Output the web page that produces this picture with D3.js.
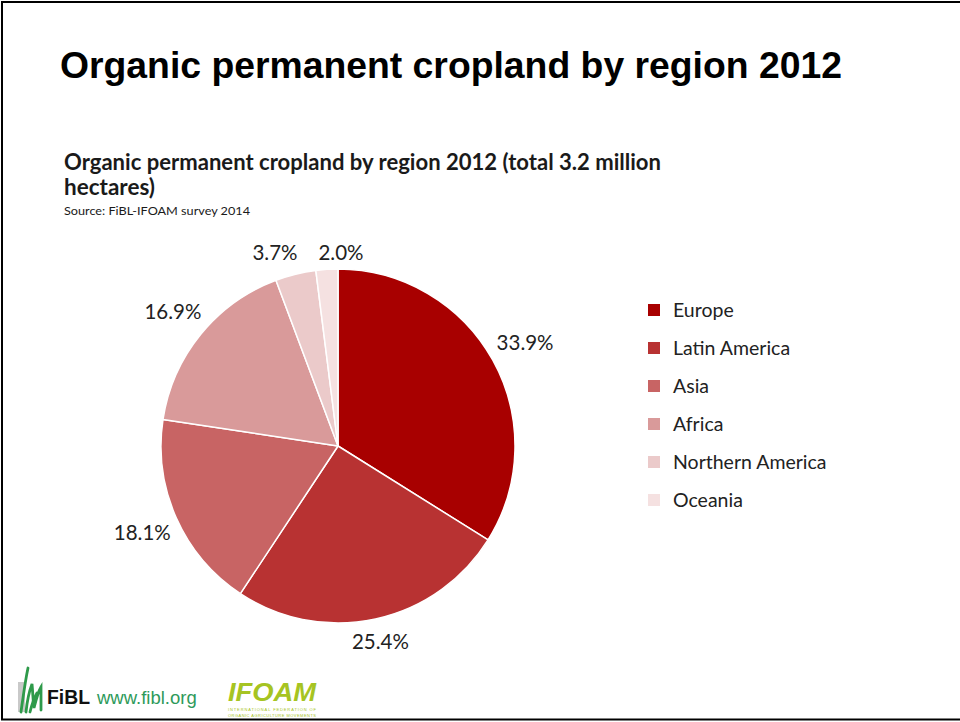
<!DOCTYPE html>
<html>
<head>
<meta charset="utf-8">
<script src="https://cdn.jsdelivr.net/npm/d3@7"></script>
<style>
  body { margin: 0; background: #fff; }
  svg { display: block; }
</style>
</head>
<body>
<div id="chart"></div>
<script>
// data
var regions = ["Europe", "Latin America", "Asia", "Africa", "Northern America", "Oceania"];
var shares = [33.9, 25.4, 18.1, 16.9, 3.7, 2.0];
var colors = ["#a80000", "#b83232", "#c86464", "#d99a9a", "#ebcaca", "#f5e1e1"];

var slideTitle = "Organic permanent cropland by region 2012";
var chartTitle1 = "Organic permanent cropland by region 2012 (total 3.2 million";
var chartTitle2 = "hectares)";
var sourceText = "Source: FiBL-IFOAM survey 2014";

var W = 960, H = 722;
var svg = d3.select("#chart").append("svg")
    .attr("width", W)
    .attr("height", H);

// slide frame
svg.append("rect")
    .attr("x", 2).attr("y", 2)
    .attr("width", W + 10).attr("height", H - 4.5)
    .attr("fill", "#fff")
    .attr("stroke", "#000")
    .attr("stroke-width", 2);

svg.append("text")
    .attr("x", 60).attr("y", 78)
    .attr("font-family", "Liberation Sans, Arial, sans-serif")
    .attr("font-weight", "bold")
    .attr("font-size", 37)
    .attr("textLength", 782)
    .attr("lengthAdjust", "spacingAndGlyphs")
    .attr("fill", "#000")
    .text(slideTitle);

// chart titles
var calibri = "Lato, 'Open Sans', sans-serif";
svg.append("text")
    .attr("x", 64).attr("y", 170)
    .attr("font-family", calibri).attr("font-weight", "bold")
    .attr("font-size", 22).attr("fill", "#1a1a1a")
    .attr("textLength", 597)
    .attr("lengthAdjust", "spacingAndGlyphs")
    .text(chartTitle1);
svg.append("text")
    .attr("x", 64).attr("y", 195)
    .attr("font-family", calibri).attr("font-weight", "bold")
    .attr("font-size", 22).attr("fill", "#1a1a1a")
    .attr("textLength", 91)
    .attr("lengthAdjust", "spacingAndGlyphs")
    .text(chartTitle2);
svg.append("text")
    .attr("x", 64).attr("y", 215)
    .attr("font-family", calibri)
    .attr("font-size", 12).attr("fill", "#1a1a1a")
    .attr("textLength", 186)
    .attr("lengthAdjust", "spacingAndGlyphs")
    .text(sourceText);

// pie
var cx = 338, cy = 446, r = 177;
var data = regions.map(function(d, i) { return {region: d, value: shares[i], color: colors[i]}; });

var pie = d3.pie().sort(null).value(function(d) { return d.value; });
var arc = d3.arc().innerRadius(0).outerRadius(r);
var arcs = pie(data);

var g = svg.append("g").attr("transform", "translate(" + cx + "," + cy + ")");
g.selectAll("path")
    .data(arcs)
    .enter()
    .append("path")
    .attr("d", arc)
    .attr("fill", function(d) { return d.data.color; })
    .attr("stroke", "#fff")
    .attr("stroke-width", 1.5)
    .attr("stroke-linejoin", "round");

// labels, outside end
var labelSize = 20.5;
var lbl = g.selectAll("text.lbl")
    .data(arcs)
    .enter()
    .append("text")
    .attr("class", "lbl")
    .attr("dy", "0.35em")
    .attr("text-anchor", "middle")
    .attr("font-family", calibri)
    .attr("font-size", labelSize)
    .attr("fill", "#222")
    .text(function(d) { return d.data.value.toFixed(1) + "%"; });

var pos = [];
lbl.each(function(d) {
  var a = (d.startAngle + d.endAngle) / 2;
  var w = this.getComputedTextLength(), h = labelSize;
  var dist = r + 7 + Math.abs(Math.sin(a)) * w / 2 + Math.abs(Math.cos(a)) * h / 2;
  pos.push({x: Math.sin(a) * dist, y: -Math.cos(a) * dist, w: w});
});
// push small neighbouring labels apart, both sides
for (var i = 1; i < pos.length; i++) {
  var p = pos[i - 1], q = pos[i];
  var need = (p.w + q.w) / 2 + 21;
  if (Math.abs(p.y - q.y) < labelSize && Math.abs(p.x - q.x) < need) {
    var extra = (need - Math.abs(q.x - p.x)) / 2;
    p.x -= extra;
    q.x += extra;
    var my = Math.max(p.y, q.y);
    p.y = my; q.y = my;
  }
}
lbl.attr("x", function(d, i) { return pos[i].x; })
   .attr("y", function(d, i) { return pos[i].y; });

// legend
var legend = svg.append("g").attr("transform", "translate(648,310)");
var item = legend.selectAll("g")
    .data(data)
    .enter()
    .append("g")
    .attr("transform", function(d, i) { return "translate(0," + (i * 38) + ")"; });
item.append("rect")
    .attr("x", 0).attr("y", -6)
    .attr("width", 12).attr("height", 12)
    .attr("fill", function(d) { return d.color; });
item.append("text")
    .attr("x", 25).attr("dy", "0.35em")
    .attr("font-family", calibri)
    .attr("font-size", 19.5)
    .attr("fill", "#222")
    .text(function(d) { return d.region; });

// footer logos
var fibl = svg.append("g").attr("transform", "translate(18,668)");
fibl.append("rect").attr("x", 0).attr("y", 14).attr("width", 7).attr("height", 30).attr("fill", "#c9c9c9");
var grass = [
  "M3,44 C5,30 7,14 10,0",
  "M8,44 C9,34 11,24 14,16 C15,26 15,34 16,40 C18,32 20,24 23,19 C23,28 23,36 23,42",
  "M12,44 C14,36 16,30 19,25"
];
fibl.selectAll("path.gr")
    .data(grass)
    .enter()
    .append("path")
    .attr("class", "gr")
    .attr("d", function(d) { return d; })
    .attr("fill", "none")
    .attr("stroke", "#2e9a4a")
    .attr("stroke-width", 2.8)
    .attr("stroke-linecap", "round");
svg.append("text")
    .attr("x", 47).attr("y", 704)
    .attr("font-family", "Liberation Sans, Arial, sans-serif")
    .attr("font-weight", "bold")
    .attr("font-size", 20)
    .attr("textLength", 43)
    .attr("lengthAdjust", "spacingAndGlyphs")
    .attr("fill", "#111")
    .text("FiBL");
svg.append("text")
    .attr("x", 97).attr("y", 704)
    .attr("font-family", "Liberation Sans, Arial, sans-serif")
    .attr("font-size", 18.5)
    .attr("fill", "#2e9a5a")
    .text("www.fibl.org");

var ifoam = svg.append("g").attr("transform", "translate(228,680)");
ifoam.append("text")
    .attr("x", 0).attr("y", 21)
    .attr("font-family", "Liberation Sans, Arial, sans-serif")
    .attr("font-weight", "bold")
    .attr("font-style", "italic")
    .attr("font-size", 25)
    .attr("textLength", 88)
    .attr("lengthAdjust", "spacingAndGlyphs")
    .attr("fill", "#a6c422")
    .text("IFOAM");
ifoam.append("text")
    .attr("x", 0).attr("y", 31)
    .attr("font-family", "Liberation Sans, Arial, sans-serif")
    .attr("font-size", 4)
    .attr("textLength", 88)
    .attr("fill", "#a6c422")
    .text("INTERNATIONAL FEDERATION OF");
ifoam.append("text")
    .attr("x", 0).attr("y", 37)
    .attr("font-family", "Liberation Sans, Arial, sans-serif")
    .attr("font-size", 4)
    .attr("textLength", 88)
    .attr("fill", "#a6c422")
    .text("ORGANIC AGRICULTURE MOVEMENTS");
</script>
</body>
</html>
